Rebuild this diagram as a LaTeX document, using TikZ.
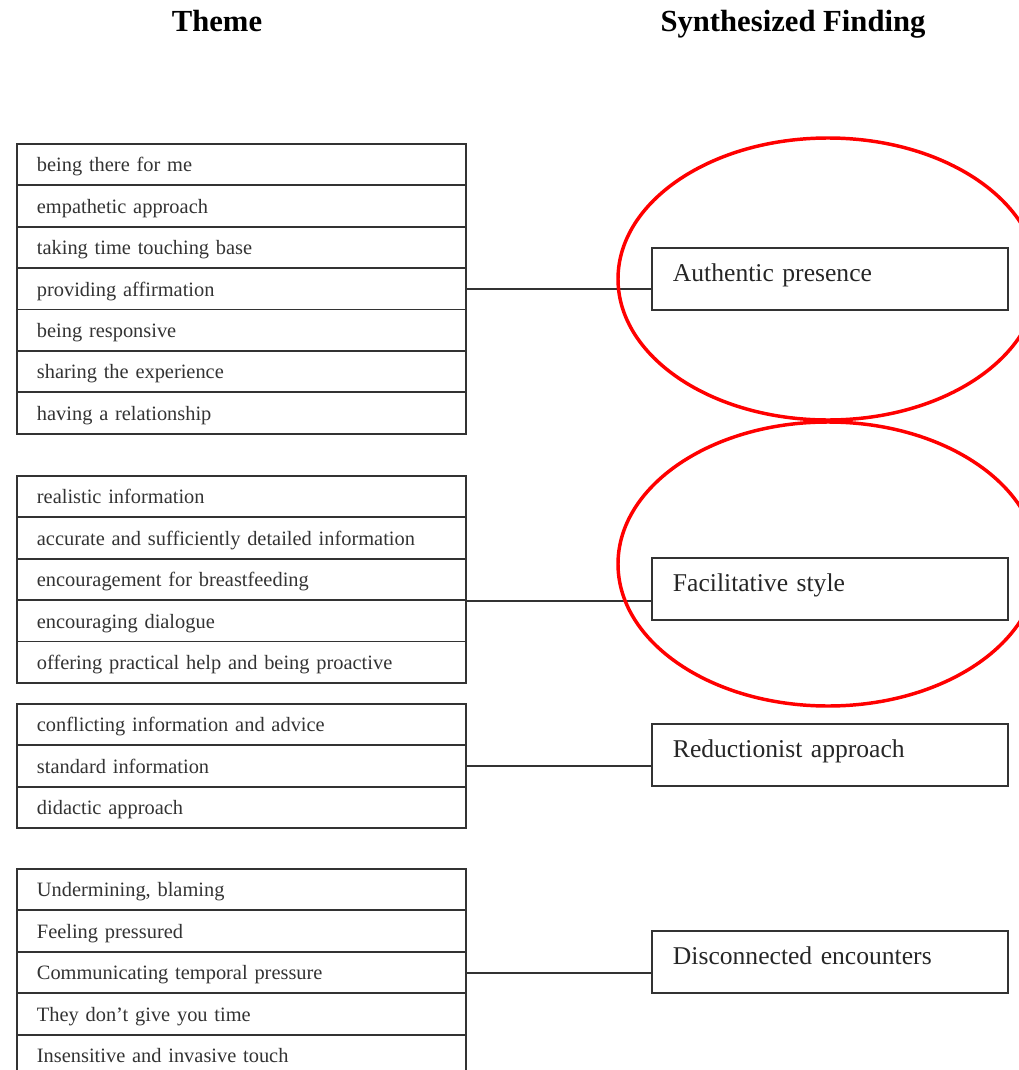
\documentclass[tikz,border=0pt]{standalone}
\usepackage{fontspec}
\setmainfont{Liberation Serif}
\begin{document}
\begin{tikzpicture}[x=0.75pt,y=-0.75pt,
  themebox/.style={draw=black!80,line width=1.4pt,text=black!80,anchor=north west,
    minimum height=31.05pt,text width=306.75pt,inner xsep=15pt,inner ysep=0pt,align=left,
    text height=13.5pt,text depth=2.5pt,font=\fontsize{15.3}{18}\selectfont},
  findbox/.style={draw=black!80,line width=1.4pt,text=black!85,anchor=north west,
    text width=235.5pt,inner xsep=15.75pt,inner ysep=4.5pt,text height=21pt,text depth=16.5pt,
    align=left,font=\fontsize{19.2}{22}\selectfont},
  heading/.style={anchor=base,font=\fontsize{23}{26}\selectfont\bfseries},
  link/.style={draw=black!80,line width=1.3pt}]
\useasboundingbox (0,0) rectangle (1019,1070);
\clip (0,0) rectangle (1019,1070);

\node[heading] (theme) at (217,32) {Theme};
\node[heading] (synth) at (793,32) {Synthesized Finding};

\foreach \i/\itext in {1/being there for me,2/empathetic approach,3/taking time touching base,
  4/providing affirmation,5/being responsive,6/sharing the experience,7/having a relationship}
{
    \node[themebox] (a\i) at (16,{143+41.4*(\i-1)}) {\itext};
}
\foreach \i/\itext in {1/realistic information,2/accurate and sufficiently detailed information,
  3/encouragement for breastfeeding,4/encouraging dialogue,5/offering practical help and being proactive}
{
    \node[themebox] (b\i) at (16,{475+41.4*(\i-1)}) {\itext};
}
\foreach \i/\itext in {1/conflicting information and advice,2/standard information,3/didactic approach}
{
    \node[themebox] (c\i) at (16,{703+41.4*(\i-1)}) {\itext};
}
\foreach \i/\itext in {1/{Undermining, blaming},2/Feeling pressured,3/Communicating temporal pressure,
  4/They don’t give you time,5/Insensitive and invasive touch}
{
    \node[themebox] (d\i) at (16,{868+41.5*(\i-1)}) {\itext};
}

\node[findbox] (auth) at (651,247) {Authentic presence};
\node[findbox] (fac) at (651,557) {Facilitative style};
\node[findbox] (redu) at (651,723) {Reductionist approach};
\node[findbox] (disc) at (651,930) {Disconnected encounters};

\draw[link] (a4.east) -- (a4.east -| auth.west);
\draw[link] (b3.south east) -- (b3.south east -| fac.west);
\draw[link] (c2.east) -- (c2.east -| redu.west);
\draw[link] (d3.east) -- (d3.east -| disc.west);

% red marks round the first two findings
\draw[red,line width=2.6pt] (828,279) ellipse [x radius=157.5pt, y radius=105.75pt];
\draw[red,line width=2.6pt] (828,564) ellipse [x radius=157.5pt, y radius=106.5pt];
\end{tikzpicture}
\end{document}
